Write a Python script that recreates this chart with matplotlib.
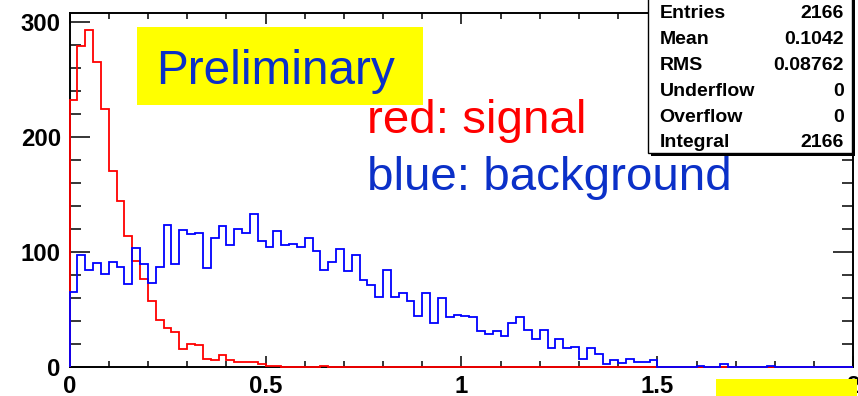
import numpy as np
import matplotlib
matplotlib.use('Agg')
import matplotlib.pyplot as plt
from matplotlib.patches import Rectangle
from matplotlib.ticker import MultipleLocator, FixedLocator, FixedFormatter

# ---------------- data ----------------
bin_edges = np.linspace(0.0, 2.0, 101)

signal_counts = [232, 279, 293, 265, 224, 170, 144, 114, 92, 76,
                 57, 41, 34, 30, 15, 20, 19, 7, 6, 10,
                 6, 4, 4, 4, 2, 1, 1, 0, 0, 0,
                 0, 0, 1, 0, 0, 0, 0, 0, 0, 0,
                 0, 0, 0, 0, 0, 0, 0, 0, 0, 0,
                 0, 0, 0, 0, 0, 0, 0, 0, 0, 0,
                 0, 0, 0, 0, 0, 0, 0, 0, 0, 0,
                 0, 0, 0, 0, 0, 0, 0, 0, 0, 0,
                 0, 0, 0, 0, 0, 0, 0, 0, 0, 0,
                 0, 0, 0, 0, 0, 0, 0, 0, 0, 0]

background_counts = [65, 97, 84, 90, 81, 91, 87, 72, 103, 89,
                     73, 87, 123, 89, 119, 115, 116, 86, 112, 122,
                     106, 120, 116, 133, 109, 104, 118, 106, 107, 104,
                     112, 101, 84, 91, 102, 83, 97, 75, 71, 61,
                     84, 61, 64, 57, 44, 64, 38, 60, 43, 45,
                     44, 43, 31, 28, 31, 27, 38, 43, 32, 24,
                     32, 16, 24, 16, 17, 7, 16, 11, 2, 6,
                     3, 7, 4, 4, 6, 0, 0, 0, 0, 0,
                     1, 0, 0, 2, 0, 0, 0, 0, 0, 1,
                     0, 0, 0, 0, 0, 0, 0, 0, 0, 0]

x_ticks = [0, 0.5, 1, 1.5, 2]
x_tick_labels = ['0', '0.5', '1', '1.5', '2']
y_ticks = [0, 100, 200, 300]
y_tick_labels = ['0', '100', '200', '300']

stat_labels = ['Entries', 'Mean', 'RMS', 'Underflow', 'Overflow', 'Integral']
stat_values = ['2166', '0.1042', '0.08762', '0', '0', '2166']

# ---------------- figure ----------------
W, H = 858, 396
plt.rcParams['font.family'] = ['Liberation Sans', 'DejaVu Sans']
fig = plt.figure(figsize=(W / 100, H / 100), dpi=100)
fig.patch.set_facecolor('white')

def fx(px):
    return px / W

def fy(py):
    return 1 - py / H

ax_l, ax_r, ax_t, ax_b = 69.6, 853.3, 13.3, 366.7
ax = fig.add_axes([fx(ax_l), fy(ax_b), (ax_r - ax_l) / W, (ax_b - ax_t) / H])

ax.stairs(signal_counts, bin_edges, color='#ff0000', lw=1.3, baseline=0,
          zorder=3, clip_on=False)
ax.stairs(background_counts, bin_edges, color='#0000ff', lw=1.3, baseline=0,
          zorder=3.1, clip_on=False)

ax.set_xlim(0, 2)
ax.set_ylim(0, 307.3)

ax.xaxis.set_major_locator(FixedLocator(x_ticks))
ax.xaxis.set_major_formatter(FixedFormatter(x_tick_labels))
ax.xaxis.set_minor_locator(MultipleLocator(0.1))
ax.yaxis.set_major_locator(FixedLocator(y_ticks))
ax.yaxis.set_major_formatter(FixedFormatter(y_tick_labels))
ax.yaxis.set_minor_locator(MultipleLocator(20))

ax.tick_params(which='both', direction='in', top=True, right=True,
               color='black', width=1.1)
ax.xaxis.set_tick_params(which='major', length=7.9, pad=6.0)
ax.xaxis.set_tick_params(which='minor', length=4.0)
ax.yaxis.set_tick_params(which='major', length=14.4, pad=6.3)
ax.yaxis.set_tick_params(which='minor', length=7.6)
for lab in ax.get_xticklabels() + ax.get_yticklabels():
    lab.set_fontweight('bold')
    lab.set_fontsize(17.2)
for sp in ax.spines.values():
    sp.set_linewidth(1.4)
    sp.set_zorder(2)

# ---------------- annotations ----------------
yellow = '#ffff00'
blue_text = '#0b30c8'

fig.add_artist(Rectangle((fx(137.3), fy(105.0)), (423.3 - 137.3) / W,
                         (105.0 - 27.3) / H, transform=fig.transFigure,
                         facecolor=yellow, edgecolor='none', zorder=5))
fig.text(fx(156), fy(84), 'Preliminary', color=blue_text, fontsize=34.4,
         va='baseline', ha='left', zorder=6)
fig.text(fx(367), fy(133.3), 'red: signal', color='#ff0000', fontsize=34.2,
         va='baseline', ha='left', zorder=6)
fig.text(fx(367), fy(190), 'blue: background', color=blue_text, fontsize=34.2,
         va='baseline', ha='left', zorder=6)

# stats box with shadow
bx_l, bx_r, bx_t, bx_b = 648.3, 852.0, -5.0, 153.0
fig.add_artist(Rectangle((fx(bx_l + 2.5), fy(bx_b + 2.5)), (bx_r - bx_l) / W,
                         (bx_b - bx_t) / H, transform=fig.transFigure,
                         facecolor='black', edgecolor='none', zorder=7))
fig.add_artist(Rectangle((fx(bx_l), fy(bx_b)), (bx_r - bx_l) / W,
                         (bx_b - bx_t) / H, transform=fig.transFigure,
                         facecolor='white', edgecolor='black', lw=1.0, zorder=8))
for i, (lab, val) in enumerate(zip(stat_labels, stat_values)):
    yb = 17.5 + 26.0 * i
    fig.text(fx(659.5), fy(yb), lab, fontsize=14.0, fontweight='bold',
             va='baseline', ha='left', zorder=9)
    fig.text(fx(843.5), fy(yb), val, fontsize=14.0, fontweight='bold',
             va='baseline', ha='right', zorder=9)

# bottom-right yellow patch covering the last tick label
fig.add_artist(Rectangle((fx(716), fy(397)), (857 - 716) / W, (397 - 379) / H,
                         transform=fig.transFigure, facecolor=yellow,
                         edgecolor='none', zorder=10))

fig.savefig('out.png', dpi=100, facecolor='white')
